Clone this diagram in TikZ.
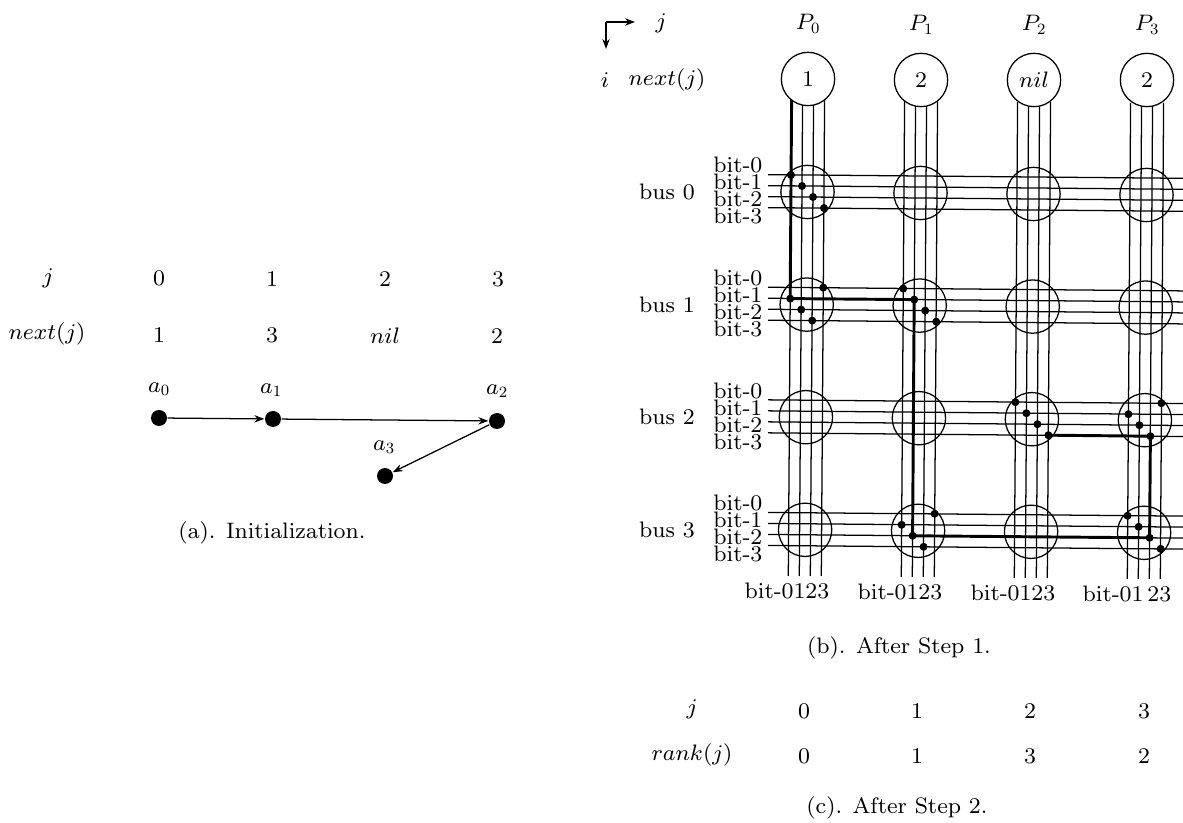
\documentclass[tikz,border=0pt]{standalone}
\usetikzlibrary{arrows.meta,calc}
% Small design sizes of Computer Modern, scaled up
\DeclareFontFamily{OT1}{wcm}{}
\DeclareFontShape{OT1}{wcm}{m}{n}{<->cmr8}{}
\DeclareFontFamily{OML}{wcm}{\skewchar\font=127}
\DeclareFontShape{OML}{wcm}{m}{it}{<->cmmi8}{}
\SetSymbolFont{operators}{normal}{OT1}{wcm}{m}{n}
\SetSymbolFont{letters}{normal}{OML}{wcm}{m}{it}
\newcommand{\figfont}{\fontencoding{OT1}\fontfamily{wcm}\fontsize{16.8}{19}\selectfont}
\begin{document}
\begin{tikzpicture}[x=0.75pt, y=-0.75pt, line width=0.95pt, font=\figfont, >={Stealth[length=7.5pt,width=5.5pt]}]
  % Define styles for list, grid and labels
  \tikzstyle{listdot} = [circle, fill=black, inner sep=0pt, minimum size=12pt]
  \tikzstyle{pecircle} = [draw, circle, fill=white, inner sep=0pt, minimum size=40pt]
  \tikzstyle{buscircle} = [draw, circle, inner sep=0pt, minimum size=40pt]
  \tikzstyle{switchdot} = [circle, fill=black, inner sep=0pt, minimum size=6pt]
  \tikzstyle{bitlabel} = [anchor=base east, inner sep=0pt]
  \tikzstyle{plainlabel} = [inner sep=0pt]
  \tikzstyle{thickpath} = [line width=2.2pt, line join=miter]

  \useasboundingbox (0,0) rectangle (1183,823);

  % (a) list
  \foreach \j/\x/\y/\v in {0/159/278/0, 1/272/279/1, 2/385/279/2, 3/498/279/3}
    \node[plainlabel] (aj\j) at (\x,\y) {\v};
  \foreach \j/\x/\y/\v in {0/159/335/1, 1/272/335/3, 2/385/336/$nil$, 3/497/336/2}
    \node[plainlabel] (an\j) at (\x,\y) {\v};
  \node[plainlabel] (ajname) at (48,278) {$j$};
  \node[plainlabel] (anname) at (47,334) {$next(j)$};
  \node[listdot] (a0) at (159,418) {};
  \node[listdot] (a1) at (273,419) {};
  \node[listdot] (a2) at (497,421) {};
  \node[listdot] (a3) at (385,476) {};
  \node[plainlabel] (la0) at (159,389) {$a_0$};
  \node[plainlabel] (la1) at (271,390) {$a_1$};
  \node[plainlabel] (la2) at (497,391) {$a_2$};
  \node[plainlabel] (la3) at (384,447) {$a_3$};
  \draw[->] (a0) -- (a1);
  \draw[->] (a1) -- (a2);
  \draw[->] (a2) -- (a3);
  \node[plainlabel] (capa) at (272,533) {(a). Initialization.};

  % (b) axes
  \coordinate (axcorner) at (606,22);
  \coordinate (axright) at (635,22);
  \coordinate (axdown) at (606,49);
  \draw[->] (axcorner) -- (axright);
  \draw[->] (axcorner) -- (axdown);
  \node[plainlabel] (axj) at (661,23) {$j$};
  \node[plainlabel] (axi) at (605,80) {$i$};
  \node[plainlabel] (axnext) at (667,80) {$next(j)$};

  % Bit lines
  \foreach \j in {0,1,2,3}
    \foreach \k/\off in {0/-16.5, 1/-5.5, 2/5.5, 3/16.5} {
      \coordinate (vtop\j\k) at ({808.1+113*\j+\off},{100+\j});
      \coordinate (vbot\j\k) at ({804.8+113*\j+\off},{576+\j});
      \draw (vtop\j\k) -- (vbot\j\k);
    }
  \foreach \i in {0,1,2,3}
    \foreach \k/\off in {0/-17, 1/-6, 2/5, 3/16} {
      \coordinate (hleft\i\k) at (768,{192+112.6*\i-0.35+\off});
      \coordinate (hright\i\k) at (1183,{192+112.6*\i+3.32+\off});
      \draw (hleft\i\k) -- (hright\i\k);
    }

  % Crossings with labels
  \foreach \i in {0,1,2,3} {
    \foreach \j in {0,1,2,3}
      \node[buscircle] (b\i\j) at ({807.5+113*\j-0.8*\i},{192+112.6*\i+\j}) {};
    \node[plainlabel] (bus\i) at (667,{192+112.6*\i}) {bus \i};
    \foreach \k in {0,1,2,3}
      \node[bitlabel] (bit\i\k) at (763,{173+112.6*\i+17*\k}) {bit-\k};
  }

  % Closed switches: bus, processor, vertical bit, horizontal bit
  \foreach \i/\j/\k/\l in {0/0/0/0, 0/0/1/1, 0/0/2/2, 0/0/3/3,
      1/0/3/0, 1/0/0/1, 1/0/1/2, 1/0/2/3,
      1/1/0/0, 1/1/1/1, 1/1/2/2, 1/1/3/3,
      2/2/0/0, 2/2/1/1, 2/2/2/2, 2/2/3/3,
      2/3/3/0, 2/3/0/1, 2/3/1/2, 2/3/2/3,
      3/1/3/0, 3/1/0/1, 3/1/1/2, 3/1/2/3,
      3/3/0/0, 3/3/1/1, 3/3/2/2, 3/3/3/3} {
    \pgfmathsetmacro{\dx}{-16.5+11*\k}
    \pgfmathsetmacro{\dy}{-17+11*\l}
    \node[switchdot] (d\i\j\k) at ($(b\i\j)+(\dx,\dy)$) {};
  }

  % Path of the list
  \draw[thickpath] (vtop00) -- (d100.center) -- (d111.center) -- (d311.center)
    -- (d332.center) -- (d232.center) -- (d223.center);

  % Processors
  \foreach \j/\x/\y/\v in {0/808/79/1, 1/921/80/2, 2/1034/80/$nil$, 3/1147/80/2} {
    \node[pecircle] (p\j) at (\x,\y) {\v};
    \node[plainlabel] (lp\j) at (\x,{\y-55}) {$P_\j$};
  }
  \foreach \j/\x/\y/\v in {0/787/591/0123, 1/900/592/0123, 2/1013/593/0123, 3/1127/594/01\,23}
    \node[plainlabel] (bb\j) at (\x,\y) {bit-\v};
  \node[plainlabel] (capb) at (899,648) {(b). After Step 1.};

  % (c) ranks
  \node[plainlabel] (cjname) at (692,709) {$j$};
  \node[plainlabel] (crname) at (692,755) {$rank(j)$};
  \foreach \j/\x/\v/\r in {0/804/0/0, 1/917/1/1, 2/1030/2/3, 3/1144/3/2} {
    \node[plainlabel] (cj\j) at (\x,711) {\v};
    \node[plainlabel] (cr\j) at (\x,756) {\r};
  }
  \node[plainlabel] (capc) at (897,808) {(c). After Step 2.};
\end{tikzpicture}
\end{document}
